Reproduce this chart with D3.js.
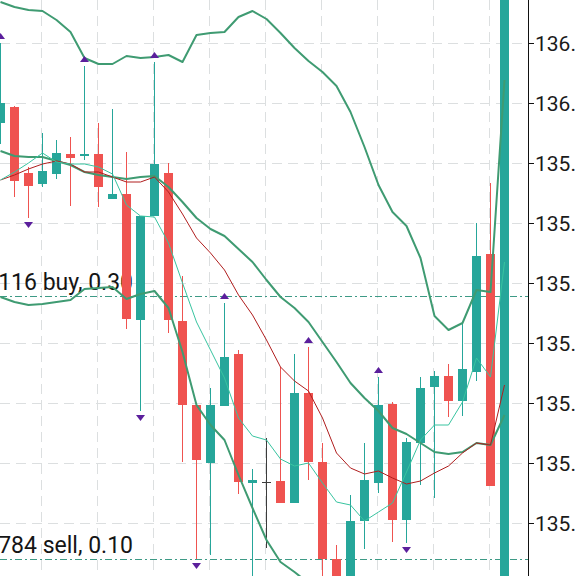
<!doctype html>
<html>
  <head>
    <meta charset="utf-8">
    <script src="https://cdn.jsdelivr.net/npm/d3@7"></script>
    <style>
      html, body { margin: 0; padding: 0; background: #ffffff; overflow: hidden; }
      svg { display: block; font-family: Roboto, "Noto Sans", sans-serif; }
    </style>
  </head>
  <body>
    <svg id="chart" width="576" height="576"></svg>
    <script>
      // --- data (price, 3 decimals) ---
      var open  = [136.000,136.016,135.950,135.939,135.949,135.969,135.967,135.969,135.924,135.929,
                   135.803,135.907,135.950,135.802,135.718,135.660,135.717,135.769,135.640,135.641,
                   135.642,135.620,135.730,135.661,135.564,135.535,135.602,135.640,135.719,135.603,
                   135.680,135.736,135.747,135.722,135.751,135.869,135.503];
      var high  = [136.080,136.017,135.956,135.990,135.983,135.986,136.057,136.000,136.014,135.971,
                   135.907,136.061,135.960,135.847,135.718,135.735,135.820,135.773,135.654,135.685,
                   135.756,135.769,135.776,135.680,135.578,135.628,135.680,135.746,135.721,135.685,
                   135.746,135.752,135.759,135.800,135.900,135.940,136.163];
      var low   = [135.979,135.926,135.905,135.936,135.944,135.917,135.963,135.916,135.924,135.794,
                   135.712,135.907,135.790,135.661,135.564,135.568,135.717,135.629,135.530,135.575,
                   135.620,135.620,135.643,135.525,135.515,135.520,135.574,135.630,135.581,135.580,
                   135.638,135.625,135.706,135.707,135.742,135.637,135.493];
      var close = [136.020,135.942,135.937,135.952,135.970,135.965,135.969,135.936,135.929,135.804,
                   135.907,135.959,135.803,135.718,135.663,135.718,135.766,135.641,135.643,135.641,
                   135.620,135.730,135.661,135.564,135.530,135.602,135.643,135.718,135.603,135.681,
                   135.735,135.747,135.722,135.754,135.867,135.637,136.153];

      var maFast = [135.943,135.951,135.960,135.970,135.961,135.959,135.959,135.956,135.949,135.918,
                    135.907,135.906,135.880,135.840,135.801,135.773,135.745,135.705,135.687,135.683,
                    135.664,135.657,135.660,135.640,135.621,135.618,135.602,135.611,135.620,135.651,
                    135.683,135.698,135.698,135.721,135.765,135.746,135.861];
      var maSlow = [135.943,135.948,135.954,135.959,135.962,135.959,135.951,135.951,135.946,135.941,
                    135.941,135.946,135.931,135.909,135.885,135.870,135.853,135.828,135.808,135.783,
                    135.756,135.742,135.732,135.705,135.670,135.655,135.649,135.652,135.645,135.639,
                    135.642,135.650,135.657,135.670,135.680,135.678,135.738];

      var bbUpper  = [136.121,136.116,136.113,136.112,136.103,136.091,136.065,136.059,136.059,136.067,
                      136.065,136.066,136.068,136.061,136.088,136.090,136.091,136.106,136.112,136.104,
                      136.090,136.075,136.062,136.051,136.037,136.011,135.976,135.938,135.911,135.897,
                      135.865,135.807,135.793,135.800,135.833,135.831,136.043];
      var bbMiddle = [135.972,135.967,135.966,135.966,135.962,135.958,135.951,135.948,135.946,135.944,
                      135.946,135.947,135.936,135.921,135.905,135.894,135.887,135.874,135.861,135.843,
                      135.826,135.815,135.801,135.781,135.761,135.740,135.725,135.712,135.695,135.689,
                      135.680,135.671,135.669,135.671,135.680,135.678,135.708];
      var bbLower  = [135.826,135.821,135.818,135.819,135.821,135.823,135.834,135.835,135.836,135.824,
                      135.829,135.832,135.815,135.771,135.718,135.698,135.683,135.648,135.615,135.583,
                      135.561,135.551,135.540,135.511,135.485,135.469,135.474,135.486,135.479,135.481,
                      135.495,135.535,135.538,135.542,135.527,135.523,135.376];

      var fractalUp   = [0, 6, 11, 16, 22, 27];
      var fractalDown = [2, 10, 14, 29];

      var yTicks = [136.08, 136.02, 135.96, 135.90, 135.84, 135.78, 135.72, 135.66, 135.60];
      var gridCandles = [3, 7, 11, 15, 19, 23, 27, 31, 35];

      var tradePrices = [135.827, 135.564];
      var tradeLabels = ["116 buy, 0.30", "784 sell, 0.10"];

      // --- setup ---
      var width = 576, height = 576;
      var axisX = 528;
      var bodyW = 9;
      var upColor = "#26a69a", downColor = "#ef5350", dojiColor = "#3c3c3c";

      var svg = d3.select("#chart");
      var x = d3.scaleLinear().domain([0, 36]).range([0.5, 504.5]);
      var y = d3.scaleLinear().domain([136.123, 135.547]).range([0, 576]);

      svg.append("rect").attr("width", width).attr("height", height).attr("fill", "#fff");

      // grid
      var grid = svg.append("g").attr("stroke", "#dcdfe0").attr("stroke-width", 1)
          .attr("stroke-dasharray", "10,6");
      grid.selectAll("line.h").data(yTicks).enter().append("line")
          .attr("x1", 0).attr("x2", axisX)
          .attr("y1", d => Math.round(y(d)) + 0.5).attr("y2", d => Math.round(y(d)) + 0.5);
      grid.selectAll("line.v").data(gridCandles).enter().append("line")
          .attr("x1", d => x(d) - 1).attr("x2", d => x(d) - 1)
          .attr("y1", 0).attr("y2", height);

      // trade lines + labels
      svg.selectAll("line.trade").data(tradePrices).enter().append("line")
          .attr("x1", 0).attr("x2", axisX)
          .attr("y1", d => Math.round(y(d)) + 0.5).attr("y2", d => Math.round(y(d)) + 0.5)
          .attr("stroke", "#3d9a86").attr("stroke-width", 1)
          .attr("stroke-dasharray", "7,3,2,3");
      svg.selectAll("text.trade").data(tradePrices).enter().append("text")
          .attr("x", 133).attr("y", d => y(d) - 6)
          .attr("text-anchor", "end")
          .attr("font-size", "23px").attr("fill", "#151515")
          .text((d, i) => tradeLabels[i]);

      // candles
      var idx = d3.range(open.length);
      var colorOf = i => close[i] > open[i] ? upColor : (close[i] < open[i] ? downColor : dojiColor);
      var candles = svg.append("g");
      candles.selectAll("line").data(idx).enter().append("line")
          .attr("x1", i => x(i)).attr("x2", i => x(i))
          .attr("y1", i => y(high[i])).attr("y2", i => y(low[i]))
          .attr("stroke", colorOf).attr("stroke-width", 1);
      candles.selectAll("rect").data(idx).enter().append("rect")
          .attr("x", i => x(i) - bodyW / 2)
          .attr("y", i => y(Math.max(open[i], close[i])))
          .attr("width", bodyW)
          .attr("height", i => Math.max(1, Math.abs(y(open[i]) - y(close[i]))))
          .attr("fill", colorOf);

      // indicator lines
      var line = d3.line().x((d, i) => x(i)).y(d => y(d));
      [bbUpper, bbMiddle, bbLower].forEach(function(s) {
        svg.append("path").attr("d", line(s)).attr("fill", "none")
            .attr("stroke", "#3f9b72").attr("stroke-width", 2).attr("stroke-linejoin", "round");
      });
      svg.append("path").attr("d", line(maSlow)).attr("fill", "none")
          .attr("stroke", "#b01e1e").attr("stroke-width", 1);
      svg.append("path").attr("d", line(maFast)).attr("fill", "none")
          .attr("stroke", "#38c4a0").attr("stroke-width", 1);

      // fractals
      var fractal = svg.append("g").attr("fill", "#5b1f9c");
      fractal.selectAll("path.up").data(fractalUp).enter().append("path")
          .attr("d", i => {
            var cx = x(i), hy = y(high[i]);
            return "M" + (cx - 4.5) + "," + (hy - 4) + "L" + (cx + 4.5) + "," + (hy - 4) + "L" + cx + "," + (hy - 10) + "Z";
          });
      fractal.selectAll("path.dn").data(fractalDown).enter().append("path")
          .attr("d", i => {
            var cx = x(i), ly = y(low[i]);
            return "M" + (cx - 4.5) + "," + (ly + 4) + "L" + (cx + 4.5) + "," + (ly + 4) + "L" + cx + "," + (ly + 10) + "Z";
          });

      // price axis
      svg.append("rect").attr("x", axisX + 0.5).attr("y", 0).attr("width", width - axisX).attr("height", height).attr("fill", "#fff");
      svg.append("line").attr("x1", axisX + 0.5).attr("x2", axisX + 0.5).attr("y1", 0).attr("y2", height)
          .attr("stroke", "#111").attr("stroke-width", 1);
      svg.selectAll("line.tick").data(yTicks).enter().append("line")
          .attr("x1", axisX).attr("x2", axisX + 6)
          .attr("y1", d => Math.round(y(d)) + 0.5).attr("y2", d => Math.round(y(d)) + 0.5)
          .attr("stroke", "#111");
      svg.selectAll("text.tick").data(yTicks).enter().append("text")
          .attr("x", axisX + 7).attr("y", d => y(d) + 8)
          .attr("font-size", "21px").attr("fill", "#1a1a1a")
          .text(d => d3.format(".3f")(d));
    </script>
  </body>
</html>
